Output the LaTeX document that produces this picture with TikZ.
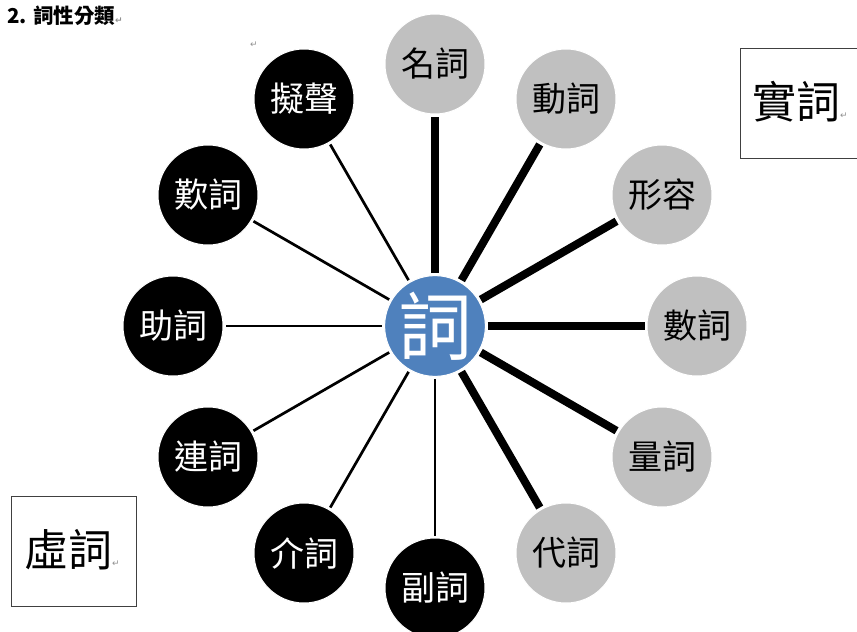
\documentclass[tikz,border=0pt]{standalone}
\usepackage{fontspec}
\setmainfont{Noto Sans CJK TC}
\newfontfamily\symfont{DejaVu Sans}
\definecolor{realgray}{HTML}{C0C0C0}
\definecolor{ciblue}{HTML}{4F81BD}
\definecolor{markgray}{HTML}{909090}
\newcommand{\retmark}{{\symfont\fontsize{9}{9}\selectfont\textcolor{markgray}{↵}}}
\tikzset{
    word/.style={circle,draw=white,line width=1pt,minimum size=100pt,inner sep=0pt,outer sep=2.5pt,font=\fontsize{34}{34}\selectfont},
    shici/.style={word,fill=realgray,text=black},
    xuci/.style={word,fill=black,text=white},
    thickline/.style={line width=8pt},
    thinline/.style={line width=2.7pt},
    kindbox/.style={draw=black!75,line width=1pt,inner sep=0pt,font=\fontsize{44}{44}\selectfont}
}
\begin{document}
\begin{tikzpicture}[x=1pt,y=-1pt]
            \useasboundingbox[fill=white] (0,0) rectangle (857,632);
            % title
            \node[anchor=west,inner sep=0pt,font=\fontsize{20.5}{20.5}\selectfont\bfseries] (title) at (7,16){2. 詞性分類\retmark};
            \node[inner sep=0pt] (mark) at (254,45){\retmark};

            \node[word,fill=ciblue,text=white,font=\fontsize{74}{74}\selectfont] (ci) at (435,326){詞};

            % real words
            \node[shici] (noun) at (435,64){名詞};
            \node[shici] (verb) at (566,99){動詞};
            \node[shici] (adj) at (662,195){形容};
            \node[shici] (num) at (697,326){數詞};
            \node[shici] (meas) at (662,457){量詞};
            \node[shici] (pron) at (566,553){代詞};
            % function words
            \node[xuci] (adv) at (435,588){副詞};
            \node[xuci] (prep) at (304,553){介詞};
            \node[xuci] (conj) at (208,457){連詞};
            \node[xuci] (part) at (173,326){助詞};
            \node[xuci] (interj) at (208,195){歎詞};
            \node[xuci] (onom) at (304,99){擬聲};

            \draw[thickline] (ci) -- (noun);
            \draw[thickline] (ci) -- (verb);
            \draw[thickline] (ci) -- (adj);
            \draw[thickline] (ci) -- (num);
            \draw[thickline] (ci) -- (meas);
            \draw[thickline] (ci) -- (pron);
            \draw[thinline] (ci) -- (adv);
            \draw[thinline] (ci) -- (prep);
            \draw[thinline] (ci) -- (conj);
            \draw[thinline] (ci) -- (part);
            \draw[thinline] (ci) -- (interj);
            \draw[thinline] (ci) -- (onom);

            \node[kindbox,minimum width=122pt,minimum height=110pt,anchor=north west] (shibox) at (740,48){};
            \node (shilabel) at (800,102){\fontsize{44}{44}\selectfont 實詞\retmark};
            \node[kindbox,minimum width=125pt,minimum height=110pt,anchor=north west] (xubox) at (11,496){};
            \node (xulabel) at (72,550){\fontsize{44}{44}\selectfont 虛詞\retmark};
        \end{tikzpicture}
\end{document}
